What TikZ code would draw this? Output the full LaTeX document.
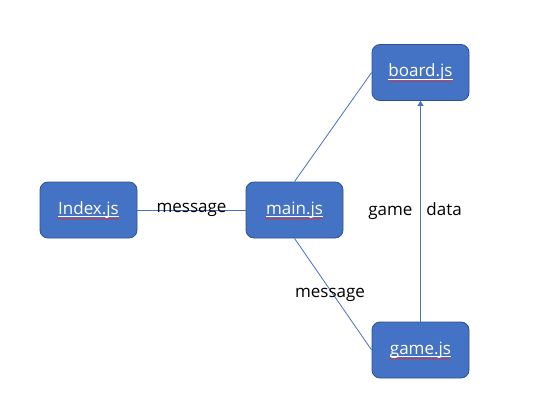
\documentclass[tikz,border=0pt]{standalone}
\usepackage{fontspec}
\setmainfont{Open Sans}
\usetikzlibrary{arrows.meta,decorations.pathmorphing}
\definecolor{boxblue}{HTML}{4472C4}
\definecolor{boxedge}{HTML}{2F528F}
\definecolor{spellred}{HTML}{E03030}

\begin{document}
\begin{tikzpicture}[x=1pt, y=-1pt,
  box/.style={rectangle, rounded corners=8pt, draw=boxedge, fill=boxblue,
    minimum width=97pt, minimum height=56pt, line width=0.8pt},
  txt/.style={inner sep=0pt, text=white, font=\fontsize{17}{19}\selectfont},
  lbl/.style={inner sep=0pt, font=\fontsize{17}{19}\selectfont},
  link/.style={draw=boxblue, line width=0.8pt},
  uline/.style={draw=white, line width=0.7pt},
  spell/.style={draw=spellred, line width=0.5pt, decorate,
    decoration={snake, amplitude=0.7pt, segment length=3pt}}]
\useasboundingbox (0,0) rectangle (539,415);

\node[box] (index) at (88.5,210) {};
\node[box] (main) at (294.5,210) {};
\node[box] (board) at (420.5,72.5) {};
\node[box] (game) at (420.5,350) {};

\node[txt] (indext) at (index) {Index.js};
\node[txt] (maint) at (main) {main.js};
\node[txt] (boardt) at (board) {board.js};
\node[txt] (gamet) at (game) {game.js};

% underline and spell check marks
\foreach \t in {indext,maint,boardt,gamet}{
  \draw[uline] ([yshift=-2pt]\t.base west) -- ([yshift=-2pt]\t.base east);
  \draw[spell] ([yshift=-4.5pt]\t.base west) -- ([yshift=-4.5pt]\t.base east);
}

\draw[link] (index.east) -- (main.west) node[lbl, midway] (msg1) {message};
\draw[link] (main.north) -- (board.west);
\draw[link] (main.south) -- (game.west);
\draw[link, -{Triangle[width=6pt,length=5pt]}] (game.north) -- (board.south);

\node[lbl] (msg2) at (330,295) {message};
\node[lbl] (data) at (415,211) {game\hspace{14pt}data};
\end{tikzpicture}
\end{document}
